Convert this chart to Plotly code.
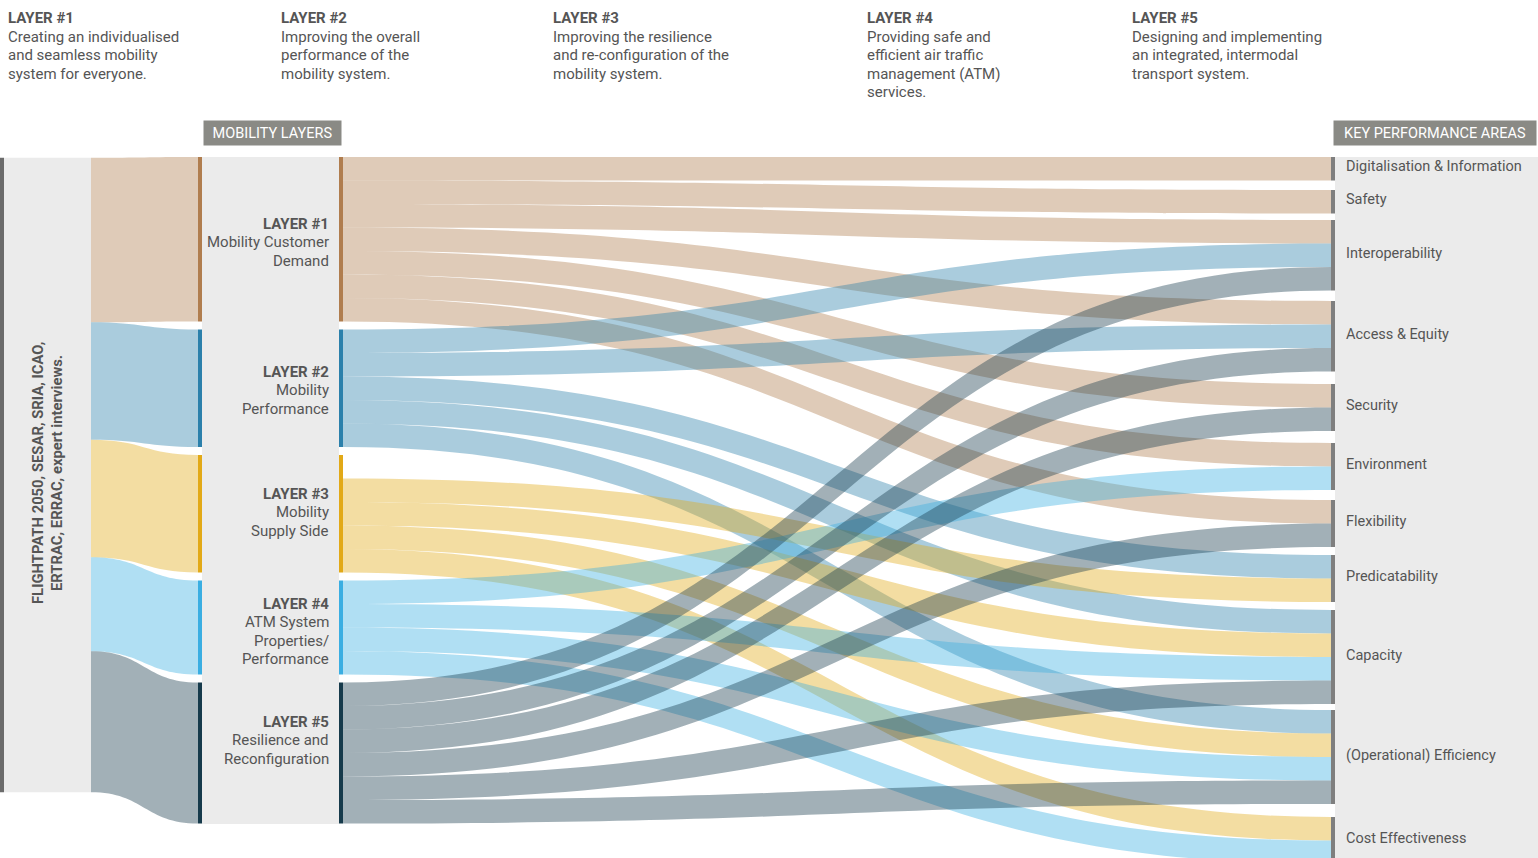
import plotly.graph_objects as go

W, H = 1538, 858

source_lines = ["FLIGHTPATH 2050, SESAR, SRIA, ICAO,", "ERTRAC, ERRAC, expert interviews."]

layer_titles = ["LAYER #1", "LAYER #2", "LAYER #3", "LAYER #4", "LAYER #5"]
layer_goals = [
    ["Creating an individualised", "and seamless mobility", "system for everyone."],
    ["Improving the overall", "performance of the", "mobility system."],
    ["Improving the resilience", "and re-configuration of the", "mobility system."],
    ["Providing safe and", "efficient air traffic", "management (ATM)", "services."],
    ["Designing and implementing", "an integrated, intermodal", "transport system."],
]
layer_names = [
    ["Mobility Customer", "Demand"],
    ["Mobility", "Performance"],
    ["Mobility", "Supply Side"],
    ["ATM System", "Properties/", "Performance"],
    ["Resilience and", "Reconfiguration"],
]
# slots per layer (layer 3 keeps one empty slot at the top)
layer_slots = [7, 5, 5, 4, 6]

kpas = [
    "Digitalisation & Information", "Safety", "Interoperability", "Access & Equity",
    "Security", "Environment", "Flexibility", "Predicatability", "Capacity",
    "(Operational) Efficiency", "Cost Effectiveness",
]

layer_kpas = [
    ["Digitalisation & Information", "Safety", "Interoperability", "Access & Equity",
     "Security", "Environment", "Flexibility"],
    ["Interoperability", "Access & Equity", "Predicatability", "Capacity",
     "(Operational) Efficiency"],
    ["Predicatability", "Capacity", "(Operational) Efficiency", "Cost Effectiveness"],
    ["Environment", "Capacity", "(Operational) Efficiency", "Cost Effectiveness"],
    ["Interoperability", "Access & Equity", "Security", "Flexibility", "Capacity",
     "(Operational) Efficiency"],
]
link_value = 1

bar_colors = ["#b07d4e", "#2b80ab", "#e2a917", "#3aaee2", "#163a4b"]
PANEL = "#ebebeb"
TEXT = "#555555"
FONT = "Roboto"


def rgba(hex_color, a):
    h = hex_color.lstrip("#")
    return "rgba(%d,%d,%d,%s)" % (int(h[0:2], 16), int(h[2:4], 16), int(h[4:6], 16), a)


def px(x):
    return x / W


def py(y):
    return y / H


# ---- layout geometry (pixels) ----
ky = 23.5                      # px per link unit
total_units = sum(layer_slots)
n_last_col = len(kpas) + 1     # kpas + spacer node
node_pad = (H - total_units * ky) / (n_last_col - 1)
thick = 4
x_src_in, x_src_out, x_lay_in, x_lay_out, x_kpa = 2, 89, 200, 341, 1333
src_center = 475
layer_tops = [157, 329.5, 455, 580.5, 682.5]
kpa_tops = [157, 190, 220, 301, 384, 443, 500, 555, 610, 710, 817]

kpa_counts = [sum(k in lk for lk in layer_kpas) for k in kpas]
layer_centers = [t + s * ky / 2 for t, s in zip(layer_tops, layer_slots)]
kpa_centers = [t + c * ky / 2 for t, c in zip(kpa_tops, kpa_counts)]

# ---- nodes ----
nx, ny, ncol = [], [], []
nx += [px(x_src_in), px(x_src_out)]
ny += [py(src_center), py(src_center)]
ncol += ["#6b6b6b", PANEL]
L_IN = len(nx)
for i in range(5):
    nx.append(px(x_lay_in)); ny.append(py(layer_centers[i])); ncol.append(bar_colors[i])
L_OUT = len(nx)
for i in range(5):
    nx.append(px(x_lay_out)); ny.append(py(layer_centers[i])); ncol.append(bar_colors[i])
K0 = len(nx)
for i in range(len(kpas)):
    nx.append(px(x_kpa)); ny.append(py(kpa_centers[i])); ncol.append("#7f7f7f")
SPACER = len(nx)
nx.append(px(x_kpa)); ny.append(py(100)); ncol.append("rgba(0,0,0,0)")

# ---- links ----
src, tgt, val, lcol = [], [], [], []
src.append(0); tgt.append(1); val.append(total_units); lcol.append(PANEL)
for i in range(5):
    src.append(1); tgt.append(L_IN + i); val.append(layer_slots[i]); lcol.append(rgba(bar_colors[i], 0.4))
for i in range(5):
    src.append(L_IN + i); tgt.append(L_OUT + i); val.append(layer_slots[i]); lcol.append(PANEL)
for i, targets in enumerate(layer_kpas):
    for k in targets:
        src.append(L_OUT + i); tgt.append(K0 + kpas.index(k)); val.append(link_value)
        lcol.append(rgba(bar_colors[i], 0.4))
    spare = layer_slots[i] - len(targets) * link_value
    if spare > 0:
        src.append(L_OUT + i); tgt.append(SPACER); val.append(spare); lcol.append("rgba(0,0,0,0)")

fig = go.Figure(go.Sankey(
    arrangement="fixed",
    domain=dict(x=[0, 1], y=[0, 1]),
    hoverinfo="none",
    node=dict(
        label=[""] * len(nx), x=nx, y=ny, color=ncol,
        thickness=thick, pad=node_pad, line=dict(width=0),
    ),
    link=dict(source=src, target=tgt, value=val, color=lcol, hoverinfo="none"),
))

shapes = [
    dict(type="rect", xref="paper", yref="paper", layer="below",
         x0=px(202), x1=px(339), y0=1 - py(157), y1=1 - py(824),
         fillcolor=PANEL, line=dict(width=0)),
    dict(type="rect", xref="paper", yref="paper", layer="below",
         x0=px(1335), x1=1, y0=1 - py(157), y1=0,
         fillcolor=PANEL, line=dict(width=0)),
]

ann = []


def text_block(lines, x, y_first, xanchor, size=15, lh=18.4, bold_first=True):
    for j, line in enumerate(lines):
        t = "<b>%s</b>" % line if (bold_first and j == 0) else line
        ann.append(dict(x=px(x), y=1 - py(y_first + j * lh), xanchor=xanchor, yanchor="middle",
                        text=t, font=dict(family=FONT, size=size, color=TEXT)))


header_x = [6, 279, 551, 865, 1130]
for i in range(5):
    text_block([layer_titles[i]] + layer_goals[i], header_x[i], 18.5, "left")

label_first_y = [224, 372, 494, 604, 722]
for i in range(5):
    text_block([layer_titles[i]] + layer_names[i], 331, label_first_y[i], "right")

for i, k in enumerate(kpas):
    ann.append(dict(x=px(1344), y=1 - py(kpa_centers[i] - 2), xanchor="left", yanchor="middle",
                    text=k, font=dict(family=FONT, size=14.5, color=TEXT)))

for j, (line, lx) in enumerate(zip(source_lines, [38, 57])):
    ann.append(dict(x=px(lx), y=1 - py(473), xanchor="center", yanchor="middle", textangle=-90,
                    text="<b>%s</b>" % line, font=dict(family=FONT, size=14.8, color=TEXT)))

for cx, w, t in [(272.5, 137, "MOBILITY LAYERS"), (1435, 202, "KEY PERFORMANCE AREAS")]:
    ann.append(dict(x=px(cx), y=1 - py(133), xanchor="center", yanchor="middle", text=t,
                    width=w, height=24, borderpad=0, bgcolor="#8a8a85",
                    font=dict(family=FONT, size=14.5, color="white")))

for a in ann:
    a.update(xref="paper", yref="paper", showarrow=False)

fig.update_layout(
    width=W, height=H,
    margin=dict(l=0, r=0, t=0, b=0),
    paper_bgcolor="white", plot_bgcolor="white",
    shapes=shapes, annotations=ann,
    font=dict(family=FONT),
)

fig.write_html("out.html", config={"displayModeBar": False},
               post_script="document.body.style.margin='0px';")
